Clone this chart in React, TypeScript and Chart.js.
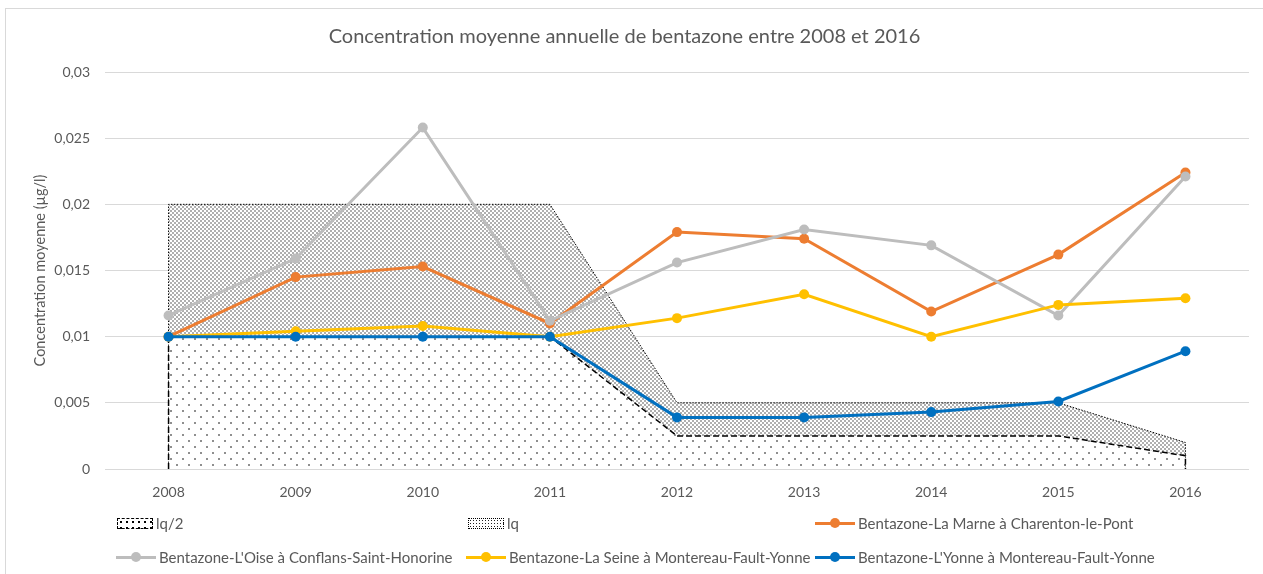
import React, { useEffect, useRef } from "react";
import { Chart, registerables } from "chart.js";

Chart.register(...registerables);

const years = [2008, 2009, 2010, 2011, 2012, 2013, 2014, 2015, 2016];
const lqHalf = [0.01, 0.01, 0.01, 0.01, 0.0025, 0.0025, 0.0025, 0.0025, 0.001];
const lq = [0.02, 0.02, 0.02, 0.02, 0.005, 0.005, 0.005, 0.005, 0.002];
const marne = [0.01, 0.0145, 0.0153, 0.011, 0.0179, 0.0174, 0.0119, 0.0162, 0.0224];
const oise = [0.0116, 0.0159, 0.0258, 0.0112, 0.0156, 0.0181, 0.0169, 0.0116, 0.0221];
const seine = [0.01, 0.0104, 0.0108, 0.01, 0.0114, 0.0132, 0.01, 0.0124, 0.0129];
const yonne = [0.01, 0.01, 0.01, 0.01, 0.0039, 0.0039, 0.0043, 0.0051, 0.0089];

const TITLE = "Concentration moyenne annuelle de bentazone entre 2008 et 2016";
const Y_TITLE = "Concentration moyenne (µg/l)";
const NAMES = {
  lqHalf: "lq/2",
  lq: "lq",
  marne: "Bentazone-La Marne à Charenton-le-Pont",
  oise: "Bentazone-L'Oise à Conflans-Saint-Honorine",
  seine: "Bentazone-La Seine à Montereau-Fault-Yonne",
  yonne: "Bentazone-L'Yonne à Montereau-Fault-Yonne",
};

const COLORS = {
  marne: "#ED7D31",
  oise: "#BDBDBD",
  seine: "#FFC000",
  yonne: "#0070C0",
};

const FONT = "Lato, 'Open Sans', sans-serif";
const TEXT = "#595959";

function xy(vals: number[]) {
  return years.map((y, i) => ({ x: y, y: vals[i] }));
}
function closedArea(vals: number[]) {
  const pts = xy(vals);
  return [{ x: years[0], y: 0 }, ...pts, { x: years[years.length - 1], y: 0 }];
}

function makePattern(size: number, dots: [number, number][], r: number, color: string, bg: string | null) {
  const c = document.createElement("canvas");
  c.width = size;
  c.height = size;
  const ctx = c.getContext("2d")!;
  if (bg) {
    ctx.fillStyle = bg;
    ctx.fillRect(0, 0, size, size);
  }
  ctx.fillStyle = color;
  dots.forEach(([x, y]) => {
    ctx.beginPath();
    ctx.arc(x, y, r, 0, Math.PI * 2);
    ctx.fill();
  });
  return ctx.createPattern(c, "repeat")!;
}

function fmt(v: number) {
  return String(parseFloat(Number(v).toFixed(4))).replace(".", ",");
}

function LineSwatch({ color }: { color: string }) {
  return (
    <div style={{ position: "relative", width: 40, height: 10 }}>
      <div style={{ position: "absolute", left: 0, top: 3.5, width: 40, height: 3, background: color }} />
      <div
        style={{
          position: "absolute",
          left: 15,
          top: 0,
          width: 10,
          height: 10,
          borderRadius: "50%",
          background: color,
        }}
      />
    </div>
  );
}

function LegendItem({ left, top, swatch, label }: { left: number; top: number; swatch: React.ReactNode; label: string }) {
  return (
    <div
      style={{
        position: "absolute",
        left,
        top: top - 10,
        height: 20,
        display: "flex",
        alignItems: "center",
        gap: 3,
        font: `15px ${FONT}`,
        color: TEXT,
        whiteSpace: "nowrap",
      }}
    >
      {swatch}
      <span>{label}</span>
    </div>
  );
}

export default function App() {
  const canvasRef = useRef<HTMLCanvasElement | null>(null);

  useEffect(() => {
    const canvas = canvasRef.current;
    if (!canvas) return;
    const sparse = makePattern(12, [[3, 3], [9, 9]], 0.8, "#000", "#fff");
    const dense = makePattern(4, [[1, 1], [3, 3]], 0.7, "#222", "#fff");

    const lineDs = (label: string, data: number[], color: string, order: number) => ({
      label,
      data: xy(data),
      borderColor: color,
      backgroundColor: color,
      borderWidth: 3,
      pointRadius: 5,
      pointBorderWidth: 0,
      pointBackgroundColor: color,
      fill: false,
      tension: 0,
      order,
    });

    const chart = new Chart(canvas, {
      type: "line",
      data: {
        datasets: [
          lineDs(NAMES.yonne, yonne, COLORS.yonne, 0),
          lineDs(NAMES.seine, seine, COLORS.seine, 1),
          lineDs(NAMES.oise, oise, COLORS.oise, 2),
          lineDs(NAMES.marne, marne, COLORS.marne, 3),
          {
            label: NAMES.lqHalf,
            data: closedArea(lqHalf),
            borderColor: "#000",
            backgroundColor: sparse,
            borderWidth: 1.5,
            borderDash: [6, 3],
            pointRadius: 0,
            fill: "origin",
            tension: 0,
            order: 4,
          },
          {
            label: NAMES.lq,
            data: closedArea(lq),
            borderColor: "#000",
            backgroundColor: dense,
            borderWidth: 1,
            borderDash: [1.5, 1.5],
            pointRadius: 0,
            fill: "origin",
            tension: 0,
            order: 5,
          },
        ] as any,
      },
      options: {
        animation: false,
        responsive: true,
        maintainAspectRatio: false,
        layout: { padding: { top: 0, left: 0, right: 14, bottom: 0 } },
        plugins: {
          legend: { display: false },
          tooltip: { enabled: false },
          title: {
            display: true,
            text: TITLE,
            color: TEXT,
            font: { family: FONT, size: 20, weight: "normal" },
            padding: { top: 25, bottom: 23 },
          },
        },
        scales: {
          x: {
            type: "linear",
            min: 2007.5,
            max: 2016.5,
            grid: { display: false, drawTicks: false },
            border: { display: false },
            afterBuildTicks: (s: any) => {
              s.ticks = years.map((v) => ({ value: v }));
            },
            afterFit: (s: any) => {
              s.height = 105;
            },
            ticks: {
              autoSkip: false,
              maxRotation: 0,
              padding: 15,
              color: TEXT,
              font: { family: FONT, size: 14 },
              callback: (v: any) => String(v),
            },
          },
          y: {
            min: 0,
            max: 0.03,
            grid: { color: "#D9D9D9", lineWidth: 1, drawTicks: false },
            border: { display: false },
            afterFit: (s: any) => {
              s.width = 105;
            },
            ticks: {
              stepSize: 0.005,
              padding: 15,
              color: TEXT,
              font: { family: FONT, size: 14 },
              callback: (v: any) => fmt(v),
            },
            title: {
              display: true,
              text: Y_TITLE,
              color: TEXT,
              font: { family: FONT, size: 14.5, weight: "normal" },
              padding: { top: 32, bottom: 0 },
            },
          },
        },
      } as any,
    });
    return () => chart.destroy();
  }, []);

  const lqHalfSwatch = (
    <div
      style={{
        width: 34,
        height: 9,
        border: "1.5px dashed #000",
        backgroundColor: "#fff",
        backgroundImage: "radial-gradient(circle, #000 0.8px, transparent 1px)",
        backgroundSize: "6px 6px",
      }}
    />
  );
  const lqSwatch = (
    <div
      style={{
        width: 34,
        height: 9,
        border: "1px dotted #000",
        backgroundColor: "#fff",
        backgroundImage: "radial-gradient(circle, #222 0.7px, transparent 0.9px)",
        backgroundSize: "3px 3px",
      }}
    />
  );

  return (
    <div
      style={{
        position: "absolute",
        left: 0,
        top: 0,
        width: 1263,
        height: 574,
        overflow: "hidden",
        background: "#fff",
      }}
    >
      <div
        style={{
          position: "absolute",
          left: 5,
          top: 8,
          width: 1300,
          height: 700,
          border: "1px solid #D9D9D9",
        }}
      />
      <div style={{ position: "absolute", left: 0, top: 0, width: 1263, height: 574 }}>
        <canvas ref={canvasRef} />
      </div>
      <LegendItem left={117} top={523} swatch={lqHalfSwatch} label={NAMES.lqHalf} />
      <LegendItem left={468} top={523} swatch={lqSwatch} label={NAMES.lq} />
      <LegendItem left={815} top={523} swatch={<LineSwatch color={COLORS.marne} />} label={NAMES.marne} />
      <LegendItem left={116} top={557} swatch={<LineSwatch color={COLORS.oise} />} label={NAMES.oise} />
      <LegendItem left={466} top={557} swatch={<LineSwatch color={COLORS.seine} />} label={NAMES.seine} />
      <LegendItem left={815} top={557} swatch={<LineSwatch color={COLORS.yonne} />} label={NAMES.yonne} />
    </div>
  );
}
